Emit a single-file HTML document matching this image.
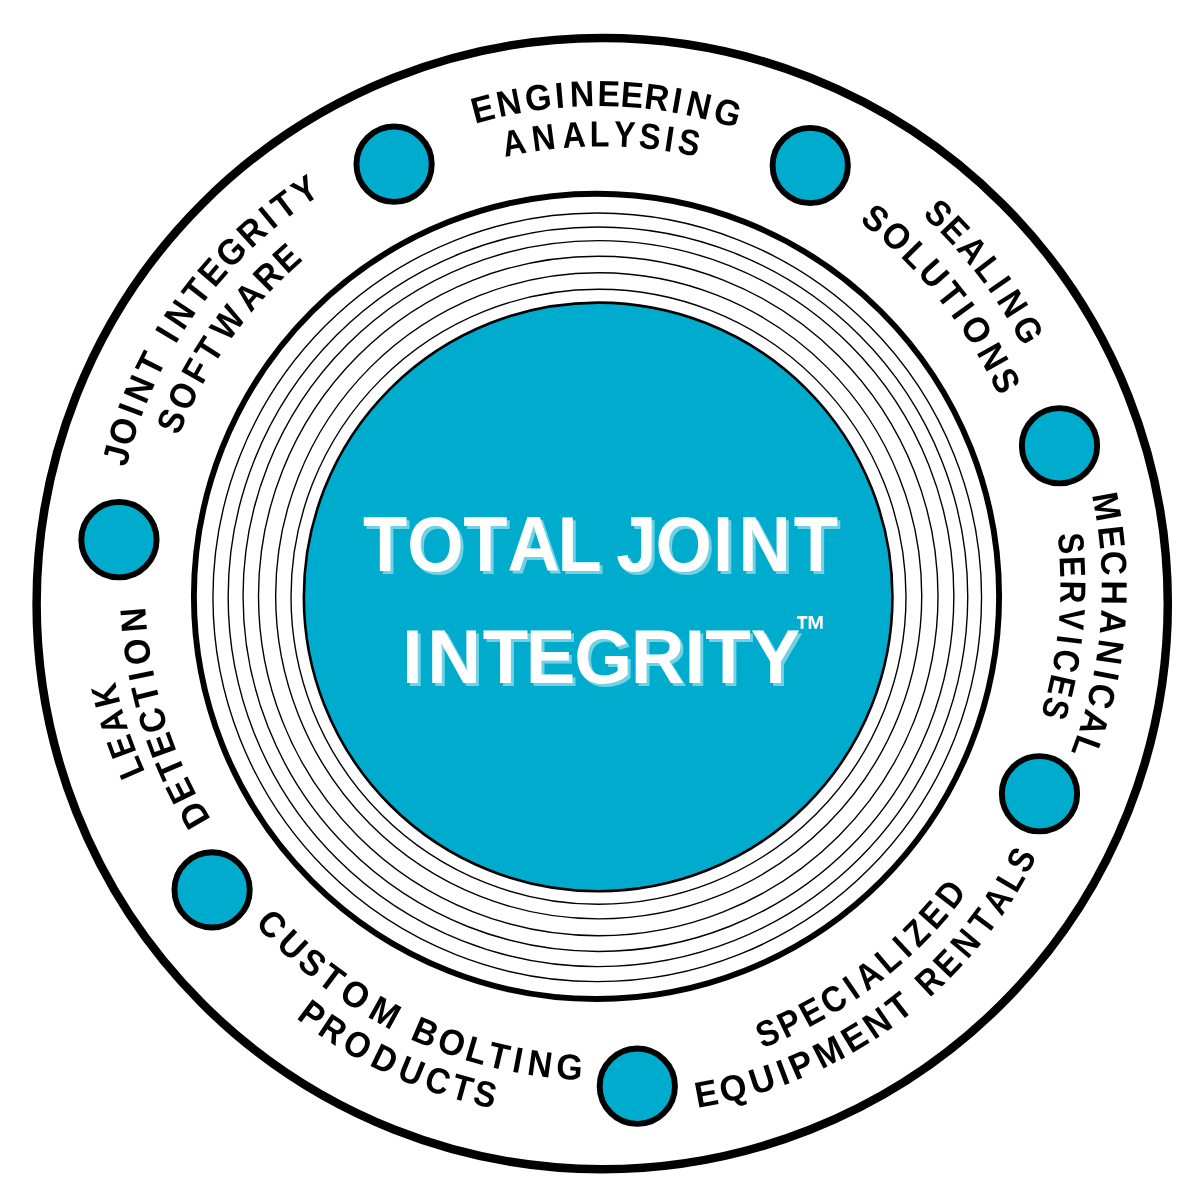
<!DOCTYPE html>
<html lang="en"><head><meta charset="utf-8"><title>Total Joint Integrity</title>
<style>
html,body{margin:0;padding:0;background:#fff;}
body{width:1200px;height:1200px;overflow:hidden;}
svg{display:block;will-change:transform;}
.lbl text{font-family:"Liberation Sans",Arial,sans-serif;font-weight:700;fill:#000;font-kerning:none;}
.ctr text,.tm{font-family:"Liberation Sans",Arial,sans-serif;font-weight:700;font-kerning:none;}
</style></head>
<body>
<svg width="1200" height="1200" viewBox="0 0 1200 1200">
<rect width="1200" height="1200" fill="#fff"/>
<defs>
<filter id="sh" x="-5%" y="-10%" width="110%" height="130%"><feOffset in="SourceAlpha" dx="3.4" dy="3" result="o"/><feFlood flood-color="#fff" flood-opacity="0.45"/><feComposite in2="o" operator="in" result="s"/><feMerge><feMergeNode in="s"/><feMergeNode in="SourceGraphic"/></feMerge></filter>
<path id="p0" d="M474.98 123.77 A439.93 439.93 0 0 1 764.58 138.77"/>
<path id="p1" d="M504.70 157.26 A439.93 439.93 0 0 1 726.37 164.30"/>
<path id="p2" d="M921.85 215.07 A460.00 460.00 0 0 1 1035.85 374.05"/>
<path id="p3" d="M859.03 221.46 A460.00 460.00 0 0 1 1010.32 423.91"/>
<path id="p4" d="M1091.78 494.94 A447.47 447.47 0 0 1 1058.98 780.00"/>
<path id="p5" d="M1057.51 534.06 A447.47 447.47 0 0 1 1031.13 743.58"/>
<path id="p6" d="M762.17 1048.31 A459.28 459.28 0 0 0 984.37 867.90"/>
<path id="p7" d="M697.28 1107.98 A459.28 459.28 0 0 0 937.64 990.30"/>
<path id="p8" d="M929.41 997.80 A459.28 459.28 0 0 0 1049.24 828.72"/>
<path id="p9" d="M254.71 923.64 A463.30 463.30 0 0 0 418.72 1042.74"/>
<path id="p10" d="M409.25 1038.53 A463.30 463.30 0 0 0 611.70 1080.60"/>
<path id="p11" d="M295.82 1017.94 A463.30 463.30 0 0 0 523.00 1113.16"/>
<path id="p12" d="M145.36 771.97 A449.07 449.07 0 0 1 109.74 651.95"/>
<path id="p13" d="M211.04 819.48 A449.07 449.07 0 0 1 144.80 576.77"/>
<path id="p14" d="M126.26 467.61 A442.44 442.44 0 0 1 181.62 334.65"/>
<path id="p15" d="M175.46 344.83 A442.44 442.44 0 0 1 347.39 179.26"/>
<path id="p16" d="M178.97 436.09 A442.44 442.44 0 0 1 326.76 241.30"/>
</defs>
<g class="rings">
<circle cx="602.2" cy="603.6" r="565.6" fill="none" stroke="#000" stroke-width="8.5"/>
<circle cx="596.5" cy="596.4" r="402.6" fill="none" stroke="#000" stroke-width="5.9"/>
<circle cx="597.25" cy="597.35" r="384.3" fill="none" stroke="#000" stroke-width="1.38"/>
<circle cx="597.95" cy="596.8" r="369.8" fill="none" stroke="#000" stroke-width="1.38"/>
<circle cx="598.45" cy="596.05" r="355.4" fill="none" stroke="#000" stroke-width="1.38"/>
<circle cx="598.25" cy="595.95" r="339.75" fill="none" stroke="#000" stroke-width="1.38"/>
<circle cx="598.7" cy="595.8" r="323.05" fill="none" stroke="#000" stroke-width="1.38"/>
<circle cx="598.5" cy="596.8" r="307.5" fill="none" stroke="#000" stroke-width="1.38"/>
<circle cx="598.15" cy="596.9" r="294.3" fill="#00acce" stroke="#000" stroke-width="2.6"/>
<circle cx="394.1" cy="164.2" r="37.65" fill="#00acce" stroke="#000" stroke-width="5.9"/>
<circle cx="810.25" cy="165.5" r="37.65" fill="#00acce" stroke="#000" stroke-width="5.9"/>
<circle cx="1059.5" cy="445.75" r="37.65" fill="#00acce" stroke="#000" stroke-width="5.9"/>
<circle cx="1039.5" cy="793.75" r="37.65" fill="#00acce" stroke="#000" stroke-width="5.9"/>
<circle cx="637.3" cy="1086.2" r="37.65" fill="#00acce" stroke="#000" stroke-width="5.9"/>
<circle cx="212.1" cy="889.9" r="37.65" fill="#00acce" stroke="#000" stroke-width="5.9"/>
<circle cx="118.95" cy="539.7" r="37.65" fill="#00acce" stroke="#000" stroke-width="5.9"/>
</g>
<g class="lbl">
<text font-size="36.30" dx="0.00 2.89 3.78 3.43 5.18 2.89 0.26 0.66 2.95 5.18 3.78" textLength="265.52" lengthAdjust="spacingAndGlyphs"><textPath href="#p0">ENGINEERING</textPath></text>
<text font-size="36.30" dx="0.00 6.99 6.99 4.13 4.18 3.57 4.58 4.58" textLength="194.20" lengthAdjust="spacingAndGlyphs"><textPath href="#p1">ANALYSIS</textPath></text>
<text font-size="36.30" dx="0.00 1.62 3.27 3.22 4.33 7.16 6.08" textLength="167.14" lengthAdjust="spacingAndGlyphs"><textPath href="#p2">SEALING</textPath></text>
<text font-size="36.30" dx="0.00 2.67 3.30 3.12 4.45 4.74 5.56 5.98 3.20" textLength="226.03" lengthAdjust="spacingAndGlyphs"><textPath href="#p3">SOLUTIONS</textPath></text>
<text font-size="36.30" dx="0.00 4.76 1.83 4.44 4.76 4.76 6.18 4.14 2.72 2.15" textLength="262.10" lengthAdjust="spacingAndGlyphs"><textPath href="#p4">MECHANICAL</textPath></text>
<text font-size="36.30" dx="0.00 2.14 3.34 5.39 6.78 5.44 3.53 2.14" textLength="183.19" lengthAdjust="spacingAndGlyphs"><textPath href="#p5">SERVICES</textPath></text>
<text font-size="36.30" dx="0.00 3.46 4.12 4.07 6.16 6.49 4.36 5.46 7.07 4.99 5.79" textLength="261.06" lengthAdjust="spacingAndGlyphs"><textPath href="#p6">SPECIALIZED</textPath></text>
<text font-size="36.30" dx="0.00 3.34 5.20 5.59 4.38 5.39 4.73 3.88 5.19" textLength="241.56" lengthAdjust="spacingAndGlyphs"><textPath href="#p7">EQUIPMENT</textPath></text>
<text font-size="36.30" dx="0.00 4.14 6.50 7.83 6.00 4.60 2.92" textLength="179.03" lengthAdjust="spacingAndGlyphs"><textPath href="#p8">RENTALS</textPath></text>
<text font-size="36.30" dx="0.00 5.38 4.19 3.60 6.29 8.45" textLength="174.34" lengthAdjust="spacingAndGlyphs"><textPath href="#p9">CUSTOM</textPath></text>
<text font-size="36.30" dx="0.00 4.07 3.77 3.00 5.29 6.60 5.18" textLength="178.52" lengthAdjust="spacingAndGlyphs"><textPath href="#p10">BOLTING</textPath></text>
<text font-size="36.30" dx="0.00 3.82 5.32 7.19 6.99 5.31 4.64 3.38" textLength="219.33" lengthAdjust="spacingAndGlyphs"><textPath href="#p11">PRODUCTS</textPath></text>
<text font-size="36.30" dx="0.00 2.68 3.80 4.97" textLength="95.60" lengthAdjust="spacingAndGlyphs"><textPath href="#p12">LEAK</textPath></text>
<text font-size="36.30" dx="0.00 3.56 2.66 2.66 1.92 3.23 4.97 5.73 6.04" textLength="225.00" lengthAdjust="spacingAndGlyphs"><textPath href="#p13">DETECTION</textPath></text>
<text font-size="36.30" dx="0.00 1.25 4.17 4.71 3.65" textLength="114.67" lengthAdjust="spacingAndGlyphs"><textPath href="#p14">JOINT</textPath></text>
<text font-size="36.30" dx="0.00 6.47 5.50 2.87 2.43 2.83 4.25 5.16 3.86" textLength="211.69" lengthAdjust="spacingAndGlyphs"><textPath href="#p15">INTEGRITY</textPath></text>
<text font-size="36.30" dx="0.00 3.46 5.02 4.15 6.78 6.39 3.30 2.35" textLength="217.73" lengthAdjust="spacingAndGlyphs"><textPath href="#p16">SOFTWARE</textPath></text>
</g>
<g class="ctr" fill="#fff" filter="url(#sh)">
<text x="362.69" y="570.50" font-size="77.47" dx="0.37 -0.11 -0.37 0.21 -2.57 -2.89 -3.11 -0.96 1.07 5.94 3.05" textLength="474.89" lengthAdjust="spacingAndGlyphs">TOTAL JOINT</text>
<text x="402.21" y="683.00" font-size="76.75" dx="-0.31 4.79 1.80 -2.63 -1.08 -1.54 0.00 0.10 -0.10" textLength="398.49" lengthAdjust="spacingAndGlyphs">INTEGRITY</text>
</g>
<text class="tm" x="795.09" y="644.42" font-size="40.58" fill="#fff" textLength="31.25" lengthAdjust="spacingAndGlyphs">™</text>
</svg>
</body></html>
